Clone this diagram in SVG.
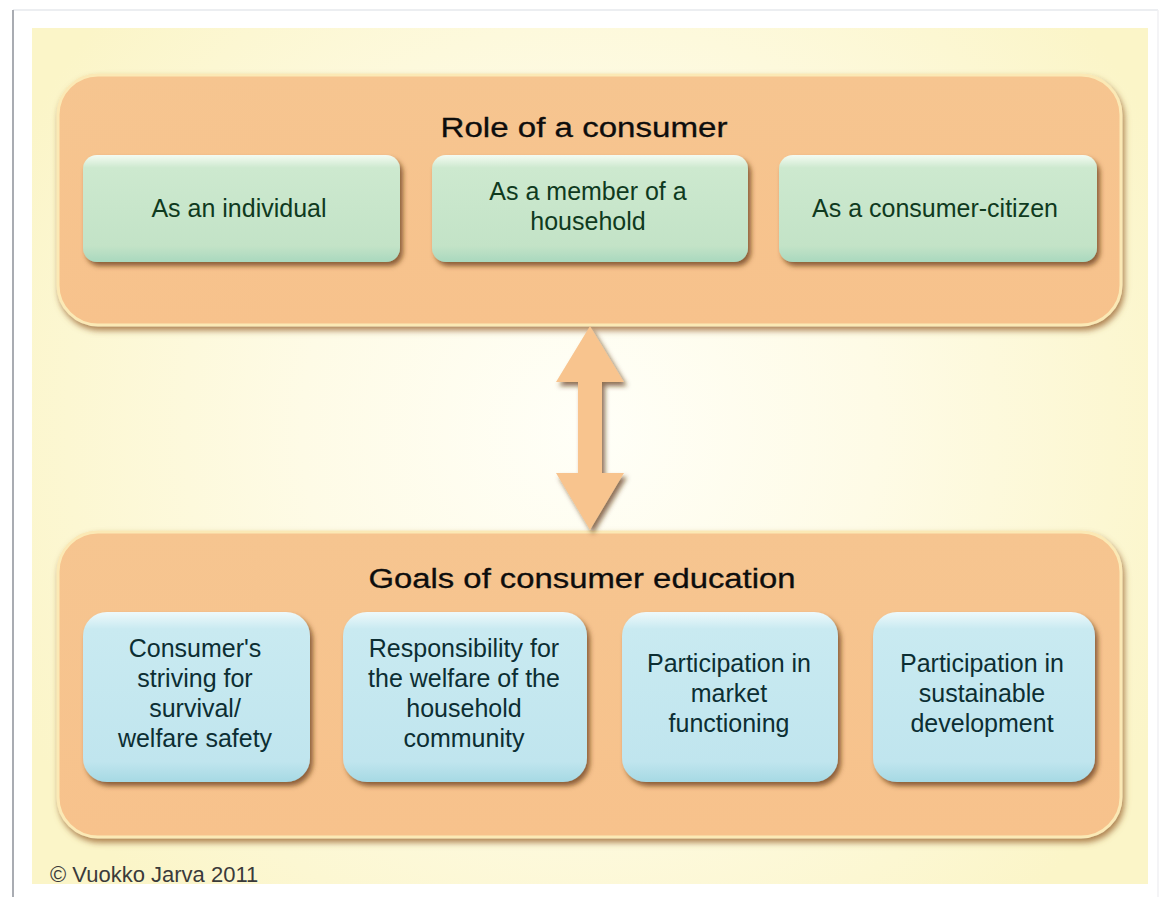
<svg xmlns="http://www.w3.org/2000/svg" width="1163" height="897" viewBox="0 0 1163 897">
  <defs>
    <radialGradient id="bgGrad" cx="590" cy="430" r="640" gradientUnits="userSpaceOnUse">
      <stop offset="0" stop-color="#fffff8"/>
      <stop offset="0.45" stop-color="#fefbe6"/>
      <stop offset="1" stop-color="#fbf5c8"/>
    </radialGradient>
    <linearGradient id="orangeGrad" x1="0" y1="0" x2="0" y2="1">
      <stop offset="0" stop-color="#f6c590"/>
      <stop offset="1" stop-color="#f7c28c"/>
    </linearGradient>
    <linearGradient id="greenGrad" x1="0" y1="0" x2="0" y2="1">
      <stop offset="0" stop-color="#f4fbf2"/>
      <stop offset="0.12" stop-color="#cde9cf"/>
      <stop offset="0.85" stop-color="#c3e3c7"/>
      <stop offset="1" stop-color="#a9d8be"/>
    </linearGradient>
    <linearGradient id="blueGrad" x1="0" y1="0" x2="0" y2="1">
      <stop offset="0" stop-color="#eef9fb"/>
      <stop offset="0.1" stop-color="#c9eaf1"/>
      <stop offset="0.88" stop-color="#c0e5ee"/>
      <stop offset="1" stop-color="#a6d9e4"/>
    </linearGradient>
    <filter id="shadow" x="-10%" y="-10%" width="125%" height="130%">
      <feDropShadow dx="3" dy="4" stdDeviation="2.5" flood-color="#5e3512" flood-opacity="0.7"/>
    </filter>
    <filter id="shadowBig" x="-5%" y="-10%" width="112%" height="125%">
      <feDropShadow dx="2" dy="4" stdDeviation="3" flood-color="#9a6532" flood-opacity="0.8"/>
    </filter>
  </defs>
  <style>
    .frame { fill: url(#orangeGrad); stroke: #fbe9b5; stroke-width: 3; filter: url(#shadowBig); }
    .green { fill: url(#greenGrad); filter: url(#shadow); }
    .blue { fill: url(#blueGrad); filter: url(#shadow); }
    .title { font-family: "Liberation Sans", Arial, sans-serif; font-size: 27px; fill: #0d0d0d; text-anchor: middle; stroke: #0d0d0d; stroke-width: 0.3; }
    .gtxt { font-family: "Liberation Sans", Arial, sans-serif; font-size: 25px; fill: #0f3a1e; text-anchor: middle; }
    .btxt { font-family: "Liberation Sans", Arial, sans-serif; font-size: 25px; fill: #0c2e33; text-anchor: middle; }
    .foot { font-family: "Liberation Sans", Arial, sans-serif; font-size: 22px; fill: #3a3a3a; }
  </style>

  <rect x="0" y="0" width="1163" height="897" fill="#ffffff"/>
  <line x1="13" y1="10" x2="1158" y2="10" stroke="#e6e8ec" stroke-width="1.5"/>
  <line x1="13" y1="10" x2="13" y2="897" stroke="#a9acb2" stroke-width="2"/>
  <line x1="1158" y1="10" x2="1158" y2="897" stroke="#f0f1f3" stroke-width="1.5"/>
  <rect x="32" y="28" width="1116" height="856" fill="url(#bgGrad)"/>

  <g id="role-of-consumer">
    <rect class="frame" x="58" y="75" width="1063" height="250" rx="40" ry="40"/>
    <text class="title" x="584" y="137" textLength="287" lengthAdjust="spacingAndGlyphs">Role of a consumer</text>
  </g>
  <g id="as-individual">
    <rect class="green" x="83" y="155" width="317" height="107" rx="14" ry="14"/>
    <text class="gtxt" x="239" y="217">As an individual</text>
  </g>
  <g id="as-household-member">
    <rect class="green" x="432" y="155" width="316" height="107" rx="14" ry="14"/>
    <text class="gtxt" x="588" y="200">As a member of a</text>
    <text class="gtxt" x="588" y="230">household</text>
  </g>
  <g id="as-consumer-citizen">
    <rect class="green" x="779" y="155" width="318" height="107" rx="14" ry="14"/>
    <text class="gtxt" x="935" y="217">As a consumer-citizen</text>
  </g>

  <g id="goals-of-education">
    <rect class="frame" x="58" y="532" width="1063" height="305" rx="40" ry="40"/>
    <text class="title" x="582" y="588" textLength="427" lengthAdjust="spacingAndGlyphs">Goals of consumer education</text>
  </g>
  <g id="goal-survival">
    <rect class="blue" x="83" y="612" width="227" height="170" rx="24" ry="24"/>
    <text class="btxt" x="195" y="657">Consumer's</text>
    <text class="btxt" x="195" y="687">striving for</text>
    <text class="btxt" x="195" y="717">survival/</text>
    <text class="btxt" x="195" y="747">welfare safety</text>
  </g>
  <g id="goal-household">
    <rect class="blue" x="343" y="612" width="244" height="170" rx="24" ry="24"/>
    <text class="btxt" x="464" y="657">Responsibility for</text>
    <text class="btxt" x="464" y="687">the welfare of the</text>
    <text class="btxt" x="464" y="717">household</text>
    <text class="btxt" x="464" y="747">community</text>
  </g>
  <g id="goal-market">
    <rect class="blue" x="622" y="612" width="216" height="170" rx="24" ry="24"/>
    <text class="btxt" x="729" y="672">Participation in</text>
    <text class="btxt" x="729" y="702">market</text>
    <text class="btxt" x="729" y="732">functioning</text>
  </g>
  <g id="goal-sustainable">
    <rect class="blue" x="873" y="612" width="222" height="170" rx="24" ry="24"/>
    <text class="btxt" x="982" y="672">Participation in</text>
    <text class="btxt" x="982" y="702">sustainable</text>
    <text class="btxt" x="982" y="732">development</text>
  </g>

  <g id="connectors">
    <polygon points="590,326 624,382 602,382 602,473 624,473 590,530 556,473 578,473 578,382 556,382" fill="#f8c48e" filter="url(#shadow)"/>
  </g>

  <text class="foot" x="50" y="882">© Vuokko Jarva 2011</text>
</svg>
